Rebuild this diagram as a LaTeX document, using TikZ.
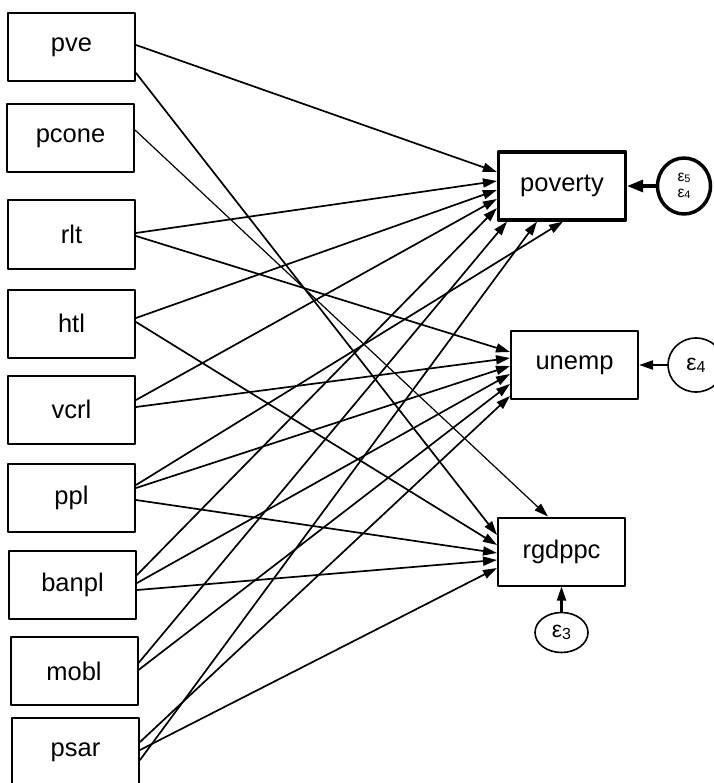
\documentclass[tikz,border=0pt]{standalone}
\usepackage{fontspec}
\setmainfont{Liberation Sans}
\usetikzlibrary{arrows.meta,shapes.geometric}
\newcommand\eps[1]{{\fontsize{23}{25}\selectfont ε}\raisebox{-2pt}{\fontsize{16}{18}\selectfont #1}}
\begin{document}
\begin{tikzpicture}[x=1pt,y=-1pt,line cap=round,line join=round,
    var/.style={draw,line width=2pt,minimum width=127pt,minimum height=68pt,inner sep=0pt,font=\fontsize{25.5}{30}\selectfont},
    err/.style={draw,ellipse,line width=1.6pt,minimum width=53pt,minimum height=40pt,inner sep=0pt},
    link/.style={line width=1.7pt,-{Triangle[length=14pt,width=9pt]}}]
  \useasboundingbox (0,0) rectangle (713,783);
  \foreach \n/\x/\y in {pve/71.5/47,pcone/70.5/138.5,rlt/71.5/234.5,htl/71.5/323.5,
      vcrl/71.5/409.5,ppl/71.5/497.5,banpl/72.5/584.5,mobl/74/671,psar/75.5/752}
    \node[var] (\n) at (\x,\y) {\n};
  \node[var,line width=3.2pt] (poverty) at (562,186) {poverty};
  \node[var] (unemp) at (574.5,365) {unemp};
  \node[var] (rgdppc) at (561.5,551.5) {rgdppc};
  \node[err,line width=3.5pt,minimum width=53pt,minimum height=56pt] (e5) at (684,186) {};
  \node[inner sep=0pt,scale=0.68] at ([yshift=8pt]e5.center) {\eps{5}};
  \node[inner sep=0pt,scale=0.68] at ([yshift=-8pt]e5.center) {\eps{4}};
  \node[err,minimum width=56pt,minimum height=54pt] (e4) at (696,365) {\eps{4}};
  \node[err] (e3) at (561.5,632.5) {\eps{3}};

  % poverty
  \draw[link] ([yshift=2pt]pve.east) -- ([yshift=14pt]poverty.west);
  \draw[link] ([yshift=1.5pt]rlt.east) -- ([yshift=5pt]poverty.west);
  \draw[link] ([yshift=5.5pt]htl.east) -- ([yshift=-4pt]poverty.west);
  \draw[link] ([yshift=9.5pt]vcrl.east) -- ([yshift=-13pt]poverty.west);
  \draw[link] ([yshift=12.5pt]ppl.east) -- ([xshift=1pt]poverty.south);
  \draw[link] ([yshift=9.5pt]banpl.east) -- ([yshift=-22pt]poverty.west);
  \draw[link] ([yshift=8pt]mobl.east) -- ([xshift=-55pt]poverty.south);
  \draw[link] ([yshift=-8pt]psar.east) -- ([xshift=-25pt]poverty.south);
  % unemp
  \draw[link] ([yshift=-1.5pt]rlt.east) -- ([yshift=13pt]unemp.west);
  \draw[link] ([yshift=2.5pt]vcrl.east) -- ([yshift=7pt]unemp.west);
  \draw[link] ([yshift=9.5pt]ppl.east) -- ([yshift=-1pt]unemp.west);
  \draw[link] ([yshift=1.5pt]banpl.east) -- ([yshift=-9pt]unemp.west);
  \draw[link] ([yshift=1pt]mobl.east) -- ([yshift=-19pt]unemp.west);
  \draw[link] ([yshift=10pt]psar.east) -- ([yshift=-31pt]unemp.west);
  % rgdppc
  \draw[link,line width=1.2pt] ([yshift=8.5pt]pcone.east) -- ([xshift=-13.5pt]rgdppc.north);
  \draw[link] ([yshift=-26pt]pve.east) -- ([yshift=16.5pt]rgdppc.west);
  \draw[link] ([yshift=1.5pt]htl.east) -- ([yshift=6.5pt]rgdppc.west);
  \draw[link] ([yshift=-2.5pt]ppl.east) -- ([yshift=-1.5pt]rgdppc.west);
  \draw[link] ([yshift=-5.5pt]banpl.east) -- ([yshift=-8.5pt]rgdppc.west);
  \draw[link] ([yshift=2pt]psar.east) -- ([yshift=-16.5pt]rgdppc.west);
  % errors
  \draw[link,line width=3.2pt,-{Triangle[length=16pt,width=12pt]}] (e5) -- (poverty);
  \draw[link,line width=2.2pt] (e4) -- (unemp);
  \draw[link,line width=2.2pt] (e3) -- (rgdppc);
\end{tikzpicture}
\end{document}
